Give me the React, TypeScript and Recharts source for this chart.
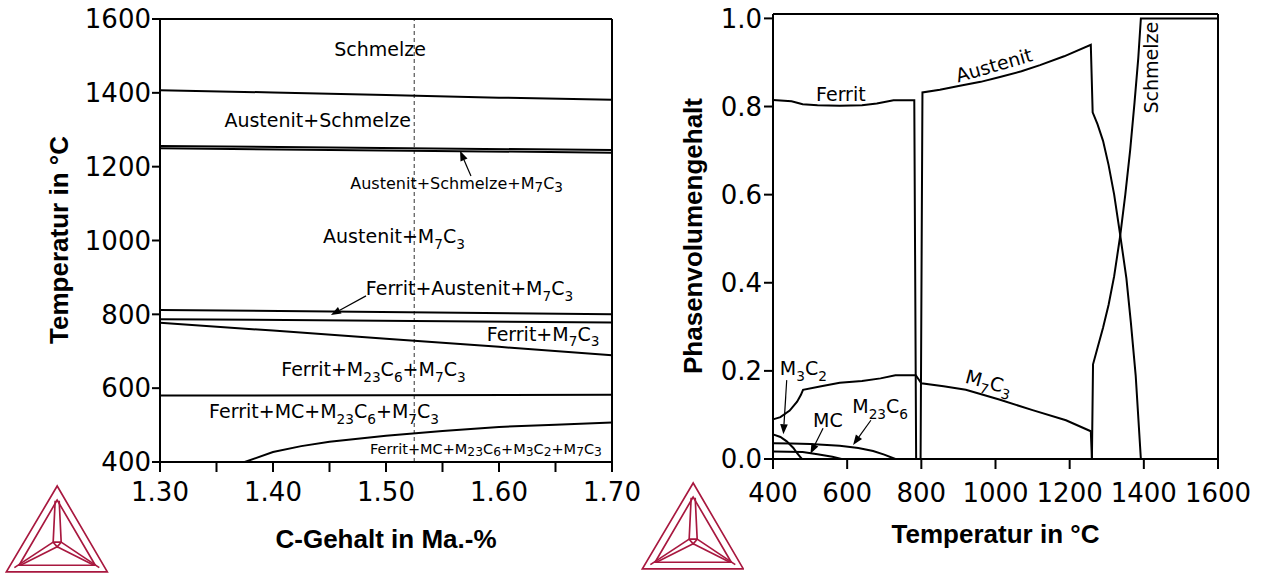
import React from "react";
import { LineChart, Line, XAxis, YAxis, ReferenceLine, ReferenceDot } from "recharts";

type Pt = { x: number; y: number };

// ---------- LEFT CHART (phase diagram) ----------
const leftXTicks = [1.3, 1.35, 1.4, 1.45, 1.5, 1.55, 1.6, 1.65, 1.7];
const leftXTickLabels = ["1.30", "", "1.40", "", "1.50", "", "1.60", "", "1.70"];
const leftYTicks = [400, 600, 800, 1000, 1200, 1400, 1600];
const leftYTickLabels = ["400", "600", "800", "1000", "1200", "1400", "1600"];

const liquidus: Pt[] = [
  { x: 1.3, y: 1407 }, { x: 1.4, y: 1401 }, { x: 1.5, y: 1394 }, { x: 1.6, y: 1387 }, { x: 1.7, y: 1381 },
];
const solidusUpper: Pt[] = [{ x: 1.3, y: 1256 }, { x: 1.7, y: 1245 }];
const solidusLower: Pt[] = [{ x: 1.3, y: 1250 }, { x: 1.7, y: 1238 }];
const austenitBoundary: Pt[] = [{ x: 1.3, y: 812 }, { x: 1.7, y: 800 }];
const ferritBoundary: Pt[] = [{ x: 1.3, y: 787 }, { x: 1.7, y: 778 }];
const m23c6Boundary: Pt[] = [
  { x: 1.3, y: 777 }, { x: 1.4, y: 756 }, { x: 1.5, y: 734 }, { x: 1.6, y: 712 }, { x: 1.7, y: 689 },
];
const mcBoundary: Pt[] = [{ x: 1.3, y: 580 }, { x: 1.7, y: 582 }];
const m3c2Boundary: Pt[] = [
  { x: 1.375, y: 400 }, { x: 1.4, y: 427 }, { x: 1.425, y: 443 }, { x: 1.45, y: 455 }, { x: 1.5, y: 471 },
  { x: 1.55, y: 484 }, { x: 1.6, y: 495 }, { x: 1.65, y: 501 }, { x: 1.7, y: 507 },
];
const selectedComposition = 1.525;

const leftSeries: Pt[][] = [
  liquidus, solidusUpper, solidusLower, austenitBoundary, ferritBoundary, m23c6Boundary, mcBoundary, m3c2Boundary,
];

// ---------- RIGHT CHART (phase fractions) ----------
const rightXTicks = [400, 600, 800, 1000, 1200, 1400, 1600];
const rightXTickLabels = ["400", "600", "800", "1000", "1200", "1400", "1600"];
const rightYTicks = [0, 0.2, 0.4, 0.6, 0.8, 1.0];
const rightYTickLabels = ["0.0", "0.2", "0.4", "0.6", "0.8", "1.0"];

const ferrit: Pt[] = [
  { x: 400, y: 0.815 }, { x: 450, y: 0.812 }, { x: 480, y: 0.805 }, { x: 520, y: 0.803 }, { x: 580, y: 0.802 },
  { x: 640, y: 0.803 }, { x: 680, y: 0.807 }, { x: 725, y: 0.814 }, { x: 781, y: 0.814 }, { x: 786, y: 0 },
];
const austenit: Pt[] = [
  { x: 798, y: 0 }, { x: 803, y: 0.832 }, { x: 850, y: 0.838 }, { x: 904, y: 0.847 }, { x: 960, y: 0.856 },
  { x: 1012, y: 0.867 }, { x: 1070, y: 0.88 }, { x: 1120, y: 0.894 }, { x: 1185, y: 0.914 }, { x: 1257, y: 0.94 },
  { x: 1262, y: 0.787 }, { x: 1275, y: 0.76 }, { x: 1290, y: 0.722 }, { x: 1305, y: 0.667 }, { x: 1320, y: 0.6 },
  { x: 1336, y: 0.51 }, { x: 1353, y: 0.41 }, { x: 1365, y: 0.31 }, { x: 1378, y: 0.19 }, { x: 1392, y: 0 },
];
const schmelze: Pt[] = [
  { x: 1260, y: 0 }, { x: 1263, y: 0.215 }, { x: 1275, y: 0.252 }, { x: 1290, y: 0.298 }, { x: 1305, y: 0.35 },
  { x: 1320, y: 0.415 }, { x: 1336, y: 0.505 }, { x: 1350, y: 0.6 }, { x: 1363, y: 0.7 }, { x: 1375, y: 0.81 },
  { x: 1385, y: 0.91 }, { x: 1392, y: 1.0 }, { x: 1600, y: 1.0 },
];
const m7c3: Pt[] = [
  { x: 400, y: 0.09 }, { x: 420, y: 0.095 }, { x: 445, y: 0.11 }, { x: 465, y: 0.13 }, { x: 475, y: 0.145 },
  { x: 481, y: 0.157 }, { x: 530, y: 0.165 }, { x: 580, y: 0.173 }, { x: 640, y: 0.177 }, { x: 690, y: 0.183 },
  { x: 730, y: 0.19 }, { x: 785, y: 0.19 }, { x: 800, y: 0.172 }, { x: 860, y: 0.165 }, { x: 920, y: 0.157 },
  { x: 1010, y: 0.135 }, { x: 1100, y: 0.111 }, { x: 1190, y: 0.088 }, { x: 1257, y: 0.063 }, { x: 1260, y: 0 },
];
const m23c6: Pt[] = [
  { x: 400, y: 0.036 }, { x: 450, y: 0.035 }, { x: 500, y: 0.034 }, { x: 580, y: 0.03 }, { x: 630, y: 0.025 },
  { x: 670, y: 0.018 }, { x: 700, y: 0.01 }, { x: 730, y: 0 },
];
const m3c2: Pt[] = [
  { x: 400, y: 0.056 }, { x: 420, y: 0.05 }, { x: 437, y: 0.04 }, { x: 455, y: 0.025 }, { x: 466, y: 0.012 },
  { x: 478, y: 0 },
];
const mc: Pt[] = [
  { x: 400, y: 0.017 }, { x: 480, y: 0.016 }, { x: 520, y: 0.011 }, { x: 560, y: 0.005 }, { x: 585, y: 0 },
];

const rightSeries: Pt[][] = [ferrit, austenit, schmelze, m7c3, m23c6, m3c2, mc];

// ---------- annotations ----------
type Ann = { x: number; y: number; text: string; size: number; angle?: number; sub?: number };
const leftLabels: Ann[] = [
  { x: 1.4947, y: 1517, text: "Schmelze", size: 19 },
  { x: 1.4395, y: 1325, text: "Austenit+Schmelze", size: 19 },
  { x: 1.5625, y: 1156, text: "Austenit+Schmelze+M7C3", size: 16, sub: 0.85 },
  { x: 1.5071, y: 1012, text: "Austenit+M7C3", size: 19 },
  { x: 1.5739, y: 870, text: "Ferrit+Austenit+M7C3", size: 19 },
  { x: 1.639, y: 747, text: "Ferrit+M7C3", size: 19 },
  { x: 1.4889, y: 652, text: "Ferrit+M23C6+M7C3", size: 19 },
  { x: 1.4452, y: 537, text: "Ferrit+MC+M23C6+M7C3", size: 19 },
  { x: 1.5885, y: 437, text: "Ferrit+MC+M23C6+M3C2+M7C3", size: 14.5, sub: 0.85 },
];
const leftArrows: Pt[][] = [
  [{ x: 1.5752, y: 1175 }, { x: 1.5655, y: 1243 }],
  [{ x: 1.4823, y: 850 }, { x: 1.4513, y: 798 }],
];
const rightLabels: Ann[] = [
  { x: 583, y: 0.828, text: "Ferrit", size: 19 },
  { x: 996, y: 0.894, text: "Austenit", size: 19, angle: -16 },
  { x: 1419, y: 0.888, text: "Schmelze", size: 19, angle: -90 },
  { x: 982, y: 0.175, text: "M7C3", size: 19, angle: 15 },
  { x: 482, y: 0.206, text: "M3C2", size: 19 },
  { x: 548, y: 0.0885, text: "MC", size: 19 },
  { x: 689, y: 0.12, text: "M23C6", size: 19 },
];
const rightArrows: Pt[][] = [
  [{ x: 437, y: 0.179 }, { x: 428, y: 0.056 }],
  [{ x: 535, y: 0.07 }, { x: 501, y: 0.012 }],
  [{ x: 664, y: 0.088 }, { x: 616, y: 0.032 }],
];

const FONT = "DejaVu Sans";
const TITLE_FONT = "Liberation Sans, Arial, sans-serif";
const axisLineStyle = { stroke: "#000", strokeWidth: 2 };
const tickStyle = { fill: "#000", fontSize: 26, fontFamily: FONT };

const fmt = (ticks: number[], labels: string[]) => (v: number) => {
  const i = ticks.findIndex((t) => Math.abs(t - v) < 1e-9);
  return i >= 0 ? labels[i] : "";
};

const SubText = (props: any) => {
  const { cx, cy, ann } = props;
  const a: Ann = ann;
  const parts = a.text.split(/(\d+)/).filter((s: string) => s.length > 0);
  const subScale = a.sub ?? 0.72;
  const shift = a.size * (a.sub ? 0.2 : 0.3);
  let lowered = false;
  const spans = parts.map((p: string, i: number) => {
    const isNum = /^\d+$/.test(p);
    let dy: number | undefined;
    if (isNum && !lowered) { dy = shift; lowered = true; }
    else if (!isNum && lowered) { dy = -shift; lowered = false; }
    return (
      <tspan key={i} dy={dy} fontSize={isNum ? a.size * subScale : a.size}>{p}</tspan>
    );
  });
  return (
    <text
      x={cx}
      y={cy + a.size * 0.36}
      textAnchor="middle"
      fontFamily={FONT}
      fontSize={a.size}
      fill="#000"
      transform={a.angle ? `rotate(${a.angle} ${cx} ${cy})` : undefined}
    >
      {spans}
    </text>
  );
};

const ArrowShape = (props: any) => {
  const { x1, y1, x2, y2 } = props;
  const ang = Math.atan2(y2 - y1, x2 - x1);
  const L = 10, W = 3.8;
  const bx = x2 - L * Math.cos(ang), by = y2 - L * Math.sin(ang);
  const px = -Math.sin(ang) * W, py = Math.cos(ang) * W;
  return (
    <g>
      <line x1={x1} y1={y1} x2={bx} y2={by} stroke="#000" strokeWidth={1.2} />
      <polygon points={`${x2},${y2} ${bx + px},${by + py} ${bx - px},${by - py}`} fill="#000" />
    </g>
  );
};

const Logo = ({ left, top }: { left: number; top: number }) => (
  <svg
    style={{ position: "absolute", left: left - 1.3, top: top - 2 }}
    width={103.7}
    height={89.6}
    viewBox="16 12 310 268"
  >
    <g fill="none" stroke="#a8183f" strokeWidth={5} strokeLinejoin="miter">
      <polygon points="172,18 20,275 322,275" />
      <polygon points="172,60 58,255 286,255" />
      <polyline points="166,62 160,186 184,186 178,62" />
      <polyline points="160,186 172,200 184,186" />
      <line x1={160} y1={186} x2={44} y2={262} />
      <line x1={172} y1={200} x2={62} y2={255} />
      <line x1={184} y1={186} x2={298} y2={262} />
      <line x1={172} y1={200} x2={282} y2={255} />
    </g>
  </svg>
);

const titleProps = { fontFamily: TITLE_FONT, fontWeight: "bold" as const, fontSize: 26, fill: "#000" };

const LeftChart = () => (
  <LineChart width={640} height={576} margin={{ top: 19, right: 28, bottom: 0, left: 0 }}>
    <XAxis
      type="number"
      dataKey="x"
      domain={[1.3, 1.7]}
      ticks={leftXTicks}
      interval={0}
      tickFormatter={fmt(leftXTicks, leftXTickLabels)}
      height={114}
      tickSize={10}
      tickMargin={11}
      tick={tickStyle}
      tickLine={axisLineStyle}
      axisLine={axisLineStyle}
      label={{
        content: () => (
          <text x={386} y={548} textAnchor="middle" {...titleProps}>C-Gehalt in Ma.-%</text>
        ),
      }}
    />
    <YAxis
      type="number"
      domain={[400, 1600]}
      ticks={leftYTicks}
      interval={0}
      tickFormatter={fmt(leftYTicks, leftYTickLabels)}
      width={160}
      tickSize={8}
      tickMargin={1}
      tick={tickStyle}
      tickLine={axisLineStyle}
      axisLine={axisLineStyle}
      label={{
        content: () => (
          <text x={68} y={240} textAnchor="middle" transform="rotate(-90 68 240)" {...titleProps}>
            Temperatur in °C
          </text>
        ),
      }}
    />
    <ReferenceLine x={selectedComposition} stroke="#555" strokeWidth={1.2} strokeDasharray="4 3" />
    <ReferenceLine y={1600} stroke="#000" strokeWidth={2} />
    <ReferenceLine x={1.7} stroke="#000" strokeWidth={2} />
    {leftSeries.map((d, i) => (
      <Line
        key={i}
        data={d}
        dataKey="y"
        type="linear"
        dot={false}
        activeDot={false}
        stroke="#000"
        strokeWidth={2}
        isAnimationActive={false}
      />
    ))}
    {leftArrows.map((seg, i) => (
      <ReferenceLine key={"a" + i} segment={seg} shape={ArrowShape} />
    ))}
    {leftLabels.map((a, i) => (
      <ReferenceDot key={"l" + i} x={a.x} y={a.y} r={0} shape={(p: any) => <SubText {...p} ann={a} />} />
    ))}
  </LineChart>
);

const RightChart = () => (
  <LineChart width={627} height={576} margin={{ top: 14, right: 49, bottom: 0, left: 0 }}>
    <XAxis
      type="number"
      dataKey="x"
      domain={[400, 1600]}
      ticks={rightXTicks}
      interval={0}
      tickFormatter={fmt(rightXTicks, rightXTickLabels)}
      height={117}
      tickSize={10}
      tickMargin={15}
      tick={tickStyle}
      tickLine={axisLineStyle}
      axisLine={axisLineStyle}
      label={{
        content: () => (
          <text x={355.5} y={543} textAnchor="middle" {...titleProps}>Temperatur in °C</text>
        ),
      }}
    />
    <YAxis
      type="number"
      domain={[0, 1.01]}
      ticks={rightYTicks}
      interval={0}
      tickFormatter={fmt(rightYTicks, rightYTickLabels)}
      width={133}
      tickSize={9}
      tickMargin={2}
      tick={tickStyle}
      tickLine={axisLineStyle}
      axisLine={axisLineStyle}
      label={{
        content: () => (
          <text x={62} y={236} textAnchor="middle" transform="rotate(-90 62 236)" {...titleProps}>
            Phasenvolumengehalt
          </text>
        ),
      }}
    />
    <ReferenceLine y={1.01} stroke="#000" strokeWidth={2} />
    <ReferenceLine x={1600} stroke="#000" strokeWidth={2} />
    {rightSeries.map((d, i) => (
      <Line
        key={i}
        data={d}
        dataKey="y"
        type="linear"
        dot={false}
        activeDot={false}
        stroke="#000"
        strokeWidth={2}
        isAnimationActive={false}
      />
    ))}
    {rightArrows.map((seg, i) => (
      <ReferenceLine key={"a" + i} segment={seg} shape={ArrowShape} />
    ))}
    {rightLabels.map((a, i) => (
      <ReferenceDot key={"l" + i} x={a.x} y={a.y} r={0} shape={(p: any) => <SubText {...p} ann={a} />} />
    ))}
  </LineChart>
);

export default function App() {
  return (
    <div style={{ position: "absolute", left: 0, top: 0, width: 1267, height: 576, background: "#fff", overflow: "hidden" }}>
      <div style={{ position: "absolute", left: 0, top: 0 }}>
        <LeftChart />
      </div>
      <div style={{ position: "absolute", left: 640, top: 0 }}>
        <RightChart />
      </div>
      <Logo left={6.7} top={486} />
      <Logo left={642} top={483} />
    </div>
  );
}
